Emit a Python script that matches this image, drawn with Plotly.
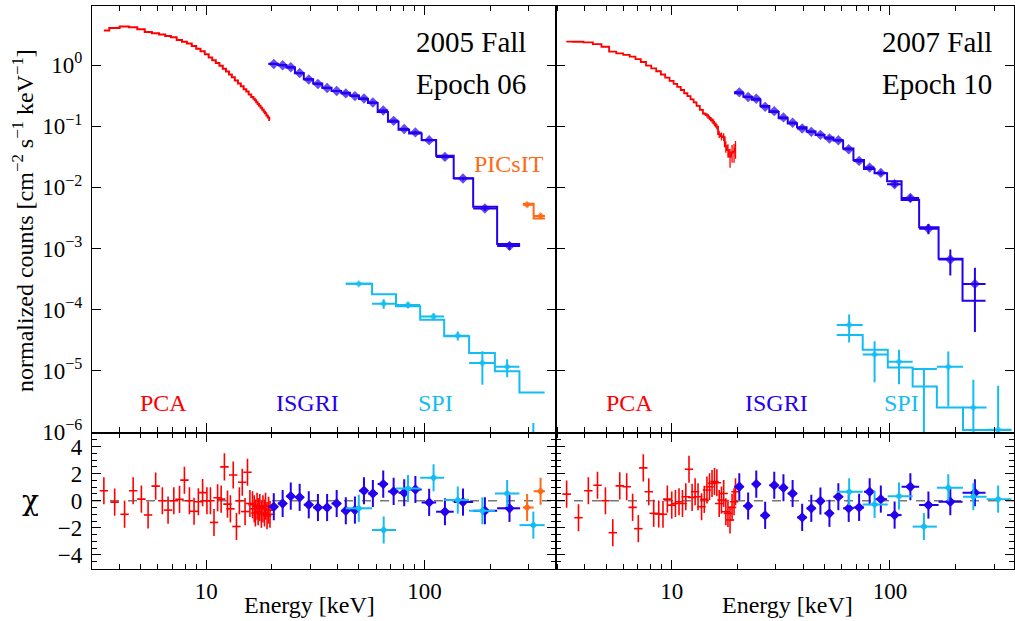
import math
import plotly.graph_objects as go

# ---------------- DATA ----------------
# --- 2005 Fall / Epoch 06 ---
pca06_energy = [3.40, 3.81, 4.23, 4.63, 5.05, 5.42, 5.87, 6.30, 6.69, 7.11, 7.55, 7.95, 8.38, 8.80, 9.21,
                9.63, 10.08, 10.46, 10.86, 11.28, 11.71, 12.12, 12.52, 12.91, 13.30, 13.76, 14.19, 14.63,
                15.07, 15.46, 15.86, 16.3, 16.6, 16.8, 17.1, 17.3, 17.6, 17.9, 18.2, 18.5, 18.7, 19.0, 19.3, 19.6]
pca06_flux = [3.65, 4.04, 4.25, 4.15, 3.85, 3.47, 3.31, 3.15, 2.98, 2.84, 2.57, 2.40, 2.25, 2.05, 1.85,
              1.68, 1.50, 1.33, 1.20, 1.08, 0.97, 0.87, 0.78, 0.70, 0.63, 0.56, 0.50, 0.45, 0.40, 0.37,
              0.33, 0.30, 0.28, 0.265, 0.245, 0.23, 0.215, 0.20, 0.185, 0.172, 0.162, 0.15, 0.138, 0.126]
pca06_chi = [0.74, -0.1, -1.0, 0.74, 0.12, -1.05, 1.08, 0.0, -0.69, 0.0, 0.1, 1.52, 0.0, -0.78, -0.07,
             0.6, 0.0, 0.0, -1.6, 0.22, 0.12, 2.5, -0.25, -0.6, 1.9, -1.9, 0.0, 1.37, -0.8, 2.1, -0.2,
             -0.3, -0.6, -0.9, -0.4, -0.8, -0.5, -1.0, -0.6, -0.9, -0.4, -1.1, -0.7, -1.0]

isgri_edges = [19.3, 21.3, 23.3, 25.5, 28.0, 30.9, 34.0, 37.5, 41.5, 45.6, 50.1, 55.1, 61.0, 68.0,
               76.0, 85.0, 97.0, 113, 136, 167, 215, 274]
isgri_energy = [20.4, 22.4, 24.4, 26.8, 29.5, 32.5, 35.8, 39.6, 43.6, 48.0, 52.8, 58.0, 64.7, 72.2,
                80.7, 90.8, 105, 124, 150, 189, 245]

isgri06_flux = [1.04, 0.99, 0.92, 0.74, 0.58, 0.49, 0.42, 0.375, 0.343, 0.31, 0.284, 0.244, 0.18, 0.122,
                0.090, 0.079, 0.059, 0.0314, 0.0139, 0.0045, 0.0011]
isgri06_err = [0.03, 0.028, 0.026, 0.021, 0.017, 0.014, 0.012, 0.011, 0.011, 0.010, 0.010, 0.009, 0.007,
               0.005, 0.004, 0.004, 0.003, 0.0018, 0.0009, 0.0004, 0.00015]
isgri06_model = [1.053, 0.996, 0.911, 0.735, 0.585, 0.497, 0.426, 0.377, 0.351, 0.317, 0.277, 0.239,
                 0.171, 0.1185, 0.0876, 0.0757, 0.0594, 0.0329, 0.0140, 0.0048, 0.00118]
isgri06_chi = [-0.44, -0.2, 0.34, 0.25, -0.3, -0.5, -0.5, -0.2, -0.74, -0.69, 0.74, 0.54, 1.23, 0.69,
               0.59, 0.83, -0.12, -0.81, -0.1, -0.74, -0.56]

spi06_edges = [43.6, 57.5, 74, 95.5, 123, 160, 210, 272, 355]
spi06_energy = [50, 65, 84, 110, 142, 184, 239, 315]
spi06_flux = [2.64e-4, 1.25e-4, 1.19e-4, 7.7e-5, 3.75e-5, 1.34e-5, 1.16e-5, 4e-7]
spi06_err_up = [1.6e-5, 2.2e-5, 1.3e-5, 1.0e-5, 6.4e-6, 7.5e-6, 3.8e-6, 1.0e-6]
spi06_err_dn = [1.6e-5, 2.2e-5, 1.3e-5, 1.0e-5, 6.4e-6, 7.5e-6, 3.8e-6, 1.0e-6]
spi06_model = [2.64e-4, 1.78e-4, 1.13e-4, 6.8e-5, 3.65e-5, 1.95e-5, 9.8e-6, 4.4e-6]
spi06_chi = [-0.56, -2.16, 0.9, 1.7, 0.05, -0.74, 0.54, -1.8]

picsit06_edges = [282, 316, 356]
picsit06_energy = [295, 340]
picsit06_flux = [5.2e-3, 3.4e-3]
picsit06_err = [4e-4, 3e-4]
picsit06_model = [5.4e-3, 3.1e-3]
picsit06_chi = [-0.5, 0.7]

# --- 2007 Fall / Epoch 10 ---
pca10_energy = [3.30, 3.74, 4.15, 4.57, 4.97, 5.37, 5.78, 6.22, 6.62, 7.03, 7.41, 7.85, 8.27, 8.72, 9.12,
                9.55, 10.0, 10.4, 10.8, 11.2, 11.6, 12.0, 12.4, 12.8, 13.2, 13.7, 14.1, 14.5, 14.9, 15.3,
                15.7, 16.1, 16.5, 16.9, 17.3, 17.7, 18.1, 18.5, 18.9, 19.3, 19.6]
pca10_flux = [2.41, 2.40, 2.35, 2.20, 1.99, 1.65, 1.55, 1.46, 1.37, 1.25, 1.12, 0.98, 0.88, 0.79, 0.70,
              0.62, 0.55, 0.49, 0.44, 0.39, 0.345, 0.31, 0.275, 0.245, 0.215, 0.185, 0.16, 0.151, 0.137,
              0.125, 0.111, 0.098, 0.074, 0.0685, 0.0664, 0.0469, 0.0407, 0.0318, 0.0371, 0.0382, 0.0433]
pca10_err = [0.03, 0.03, 0.03, 0.03, 0.03, 0.025, 0.025, 0.022, 0.022, 0.02, 0.018, 0.016, 0.015, 0.014,
             0.013, 0.012, 0.011, 0.010, 0.009, 0.009, 0.008, 0.008, 0.007, 0.007, 0.007, 0.007, 0.007,
             0.012, 0.011, 0.011, 0.010, 0.010, 0.010, 0.010, 0.010, 0.010, 0.010, 0.011, 0.012, 0.013, 0.014]
pca10_chi = [0.49, -1.25, 0.74, 1.15, 0.0, -2.36, 1.1, 1.03, -0.49, -2.06, 2.43, 0.66, -0.93, -0.98, -1.0,
             0.12, -0.32, -0.2, -0.07, -0.2, 0.3, 2.33, 0.25, 0.66, 0.3, -0.44, 0.1, 0.79, 1.03, 1.28,
             1.42, 1.33, -0.2, 0.05, 0.54, -0.81, -0.93, -1.42, -0.49, -0.07, 0.66]

isgri10_flux = [0.357, 0.299, 0.28, 0.207, 0.176, 0.139, 0.1135, 0.0917, 0.0807, 0.0721, 0.0628, 0.0589,
                0.042, 0.027, 0.021, 0.0172, 0.0112, 0.00668, 0.0021, 0.00066, 0.000263]
isgri10_err = [0.011, 0.009, 0.008, 0.006, 0.005, 0.0045, 0.004, 0.0035, 0.003, 0.003, 0.0028, 0.0026,
               0.0022, 0.0018, 0.0016, 0.0015, 0.0012, 0.0009, 0.0004, 0.0003, 0.00022]
isgri10_model = [0.346, 0.303, 0.270, 0.213, 0.170, 0.135, 0.111, 0.096, 0.082, 0.072, 0.0654, 0.0581,
                 0.0432, 0.0279, 0.0199, 0.0170, 0.0125, 0.0062, 0.00223, 0.00068, 0.00014]
isgri10_chi = [1.03, -0.39, 1.23, -1.08, 1.15, 0.96, 0.54, -1.23, -0.56, -0.02, -0.93, 0.3, -0.56, -0.49,
               0.66, 0.12, -1.06, 1.03, -0.32, -0.07, 0.59]

spi10_edges = [57, 75, 97.7, 127, 164, 216, 277, 360]
spi10_energy = [65, 85, 110, 143, 185, 241, 313]
spi10_flux = [5.6e-5, 1.85e-5, 1.4e-5, 1.07e-5, 1.16e-5, 2.5e-6, 1.08e-6]
spi10_err_up = [2.7e-5, 1.2e-5, 8e-6, 0.0, 9e-6, 4.6e-6, 4.6e-6]
spi10_err_dn = [2.7e-5, 1.2e-5, 8e-6, 1.07e-5, 9e-6, 4.6e-6, 4.6e-6]
spi10_model = [3.85e-5, 2.2e-5, 1.13e-5, 5.5e-6, 2.5e-6, 1.07e-6, 1.07e-6]
spi10_chi = [0.66, -0.27, 0.34, -1.91, 0.96, 0.3, 0.12]

y_tickvals = [1e-6, 1e-5, 1e-4, 1e-3, 1e-2, 1e-1, 1]
y_ticktext = ["10<sup>−6</sup>", "10<sup>−5</sup>", "10<sup>−4</sup>", "10<sup>−3</sup>",
              "10<sup>−2</sup>", "10<sup>−1</sup>", "10<sup>0</sup>"]
chi_tickvals = [-4, -2, 0, 2, 4]
chi_ticktext = ["−4", "−2", "0", "2", "4"]
x_tickvals = [10, 100]
x_ticktext = ["10", "100"]
x_minorvals = [3, 4, 5, 6, 7, 8, 9, 20, 30, 40, 50, 60, 70, 80, 90, 200, 300, 400]

# ---------------- STYLE ----------------
FONT = "Liberation Serif, Times New Roman, serif"
RED = "#ff0000"
BLUE = "#2400ee"
LBLUE = "#14bcf4"
ORANGE = "#ff6a14"

W, H = 1015, 621
ML, MR, MT, MB = 92, 1, 6, 52
PW, PH = W - ML - MR, H - MT - MB
XSPLIT = (556 - ML) / PW
YSPLIT = (569 - 432.5) / PH

fig = go.Figure()


def xerr(energy, edges):
    lo = [e - edges[i] for i, e in enumerate(energy)]
    hi = [edges[i + 1] - e for i, e in enumerate(energy)]
    return lo, hi


def add_model(xa, ya, edges, model, color, width=2):
    fig.add_trace(go.Scatter(x=edges, y=list(model) + [model[-1]], mode="lines",
                             line=dict(color=color, width=width, shape="hv"),
                             xaxis=xa, yaxis=ya, hoverinfo="skip"))


def add_data(xa, ya, energy, edges, flux, eup, edn, color, size):
    lo, hi = xerr(energy, edges)
    sizes = [size if u > 0 else 0 for u in eup]
    fig.add_trace(go.Scatter(
        x=energy, y=flux, mode="markers",
        marker=dict(symbol="diamond", size=sizes, color=color, line=dict(width=0)),
        error_x=dict(type="data", symmetric=False, array=hi, arrayminus=lo,
                     color=color, thickness=2, width=0),
        error_y=dict(type="data", symmetric=False, array=eup, arrayminus=edn,
                     color=color, thickness=2, width=0),
        xaxis=xa, yaxis=ya, hoverinfo="skip"))


def add_resid(xa, ya, energy, chi, color, size, edges=None, thick=2):
    ones = [1.0] * len(chi)
    if edges is not None:
        lo, hi = xerr(energy, edges)
        ex = dict(type="data", symmetric=False, array=hi, arrayminus=lo,
                  color=color, thickness=thick, width=0)
        mk = dict(symbol="diamond", size=size, color=color, line=dict(width=0))
    else:
        ex = None
        mk = dict(symbol="line-ew", size=size, color=color, line=dict(color=color, width=1.6))
    fig.add_trace(go.Scatter(
        x=energy, y=chi, mode="markers", marker=mk,
        error_x=ex,
        error_y=dict(type="data", array=ones, color=color, thickness=thick, width=0),
        xaxis=xa, yaxis=ya, hoverinfo="skip"))


# ---- top-left : 2005 Fall ----
fig.add_trace(go.Scatter(x=pca06_energy, y=pca06_flux, mode="lines",
                         line=dict(color=RED, width=2, shape="hvh"),
                         xaxis="x", yaxis="y", hoverinfo="skip"))
add_model("x", "y", isgri_edges, isgri06_model, BLUE)
add_data("x", "y", isgri_energy, isgri_edges, isgri06_flux, isgri06_err, isgri06_err, BLUE, 8)
add_model("x", "y", spi06_edges, spi06_model, LBLUE)
add_data("x", "y", spi06_energy, spi06_edges, spi06_flux, spi06_err_up, spi06_err_dn, LBLUE, 6)
add_model("x", "y", picsit06_edges, picsit06_model, ORANGE)
add_data("x", "y", picsit06_energy, picsit06_edges, picsit06_flux, picsit06_err, picsit06_err, ORANGE, 6)

# ---- top-right : 2007 Fall ----
fig.add_trace(go.Scatter(x=pca10_energy, y=pca10_flux, mode="lines",
                         line=dict(color=RED, width=1.8, shape="hvh"),
                         error_y=dict(type="data", array=pca10_err, color=RED, thickness=1.3, width=0),
                         xaxis="x2", yaxis="y2", hoverinfo="skip"))
add_model("x2", "y2", isgri_edges, isgri10_model, BLUE)
add_data("x2", "y2", isgri_energy, isgri_edges, isgri10_flux, isgri10_err, isgri10_err, BLUE, 8)
add_model("x2", "y2", spi10_edges, spi10_model, LBLUE)
add_data("x2", "y2", spi10_energy, spi10_edges, spi10_flux, spi10_err_up, spi10_err_dn, LBLUE, 6)

# ---- residuals ----
add_resid("x3", "y3", pca06_energy, pca06_chi, RED, 6, thick=1.6)
add_resid("x3", "y3", isgri_energy, isgri06_chi, BLUE, 8, isgri_edges)
add_resid("x3", "y3", spi06_energy, spi06_chi, LBLUE, 6, spi06_edges)
add_resid("x3", "y3", picsit06_energy, picsit06_chi, ORANGE, 6, picsit06_edges)

add_resid("x4", "y4", pca10_energy, pca10_chi, RED, 6, thick=1.6)
add_resid("x4", "y4", isgri_energy, isgri10_chi, BLUE, 8, isgri_edges)
add_resid("x4", "y4", spi10_energy, spi10_chi, LBLUE, 6, spi10_edges)

# ---------------- AXES ----------------
minor_x = dict(tickvals=x_minorvals, ticks="inside", ticklen=5, tickwidth=1.2, tickcolor="black")
base_x = dict(type="log", showline=True, linecolor="black", linewidth=1.3, mirror="allticks",
              ticks="inside", ticklen=9, tickwidth=1.3, tickcolor="black", tickvals=x_tickvals,
              ticktext=x_ticktext, showgrid=False, zeroline=False, minor=minor_x,
              tickfont=dict(family=FONT, size=23, color="black"))
rng_l = [math.log10(3), math.log10(400)]
rng_r = [math.log10(2.95), math.log10(370)]

fig.update_layout(
    xaxis=dict(base_x, domain=[0, XSPLIT], range=rng_l, anchor="y", showticklabels=False),
    xaxis2=dict(base_x, domain=[XSPLIT, 1], range=rng_r, anchor="y2", showticklabels=False),
    xaxis3=dict(base_x, domain=[0, XSPLIT], range=rng_l, anchor="y3", ticklabelstandoff=1),
    xaxis4=dict(base_x, domain=[XSPLIT, 1], range=rng_r, anchor="y4", ticklabelstandoff=1),
)

base_y = dict(type="log", showline=True, linecolor="black", linewidth=1.3, mirror="allticks",
              ticks="inside", ticklen=9, tickwidth=1.3, tickcolor="black", tickvals=y_tickvals,
              ticktext=y_ticktext, showgrid=False, zeroline=False, range=[-6.01, 0.965],
              domain=[YSPLIT, 1], tickfont=dict(family=FONT, size=23, color="black"))
base_chi = dict(showline=True, linecolor="black", linewidth=1.3, mirror="allticks",
                ticks="inside", ticklen=9, tickwidth=1.3, tickcolor="black", tickvals=chi_tickvals,
                ticktext=chi_ticktext, showgrid=False, zeroline=False, range=[-5.04, 5.04],
                domain=[0, YSPLIT], tickfont=dict(family=FONT, size=23, color="black"),
                minor=dict(dtick=0.5, tick0=0, ticks="inside", ticklen=5, tickwidth=1.2, tickcolor="black"))
fig.update_layout(
    yaxis=dict(base_y, anchor="x", ticklabelstandoff=4),
    yaxis2=dict(base_y, anchor="x2", showticklabels=False),
    yaxis3=dict(base_chi, anchor="x3", ticklabelstandoff=4),
    yaxis4=dict(base_chi, anchor="x4", showticklabels=False),
)

# zero lines in residual panels
for xr, yr in (("x3", "y3"), ("x4", "y4")):
    fig.add_shape(type="line", xref=xr + " domain", x0=0, x1=1, yref=yr, y0=0, y1=0,
                  line=dict(color="#777777", width=1.5, dash="dash"), layer="below")


def px(x):
    return (x - ML) / PW


def py(y):
    return (H - MB - y) / PH


def label(text, x, y, size, color="black", xanchor="center", angle=0, family=FONT):
    fig.add_annotation(text=text, x=px(x), y=py(y), xref="paper", yref="paper", showarrow=False,
                       xanchor=xanchor, yanchor="middle", textangle=angle,
                       font=dict(family=family, size=size, color=color))


label("2005 Fall", 528, 42, 29, xanchor="right")
label("Epoch 06", 528, 84, 29, xanchor="right")
label("2007 Fall", 994, 42, 29, xanchor="right")
label("Epoch 10", 994, 84, 29, xanchor="right")
label("PICsIT", 509, 164, 24, ORANGE)
label("PCA", 163, 403, 24, RED)
label("ISGRI", 307, 403, 24, BLUE)
label("SPI", 435, 403, 24, LBLUE)
label("PCA", 629, 403, 24, RED)
label("ISGRI", 776, 403, 24, BLUE)
label("SPI", 901, 403, 24, LBLUE)
label("normalized counts [cm<sup>−2</sup> s<sup>−1</sup> keV<sup>−1</sup>]", 23, 221, 24, angle=-90)
label("χ", 30, 500, 28, family="DejaVu Serif, serif")
label("Energy [keV]", 309, 605, 24)
label("Energy [keV]", 787, 605, 24)

fig.update_layout(width=W, height=H, margin=dict(l=ML, r=MR, t=MT, b=MB),
                  paper_bgcolor="white", plot_bgcolor="white", showlegend=False,
                  hovermode=False, font=dict(family=FONT, color="black"))

fig.write_html("out.html", config={"displayModeBar": False},
               post_script="document.body.style.margin='0';document.body.style.overflow='hidden';")
